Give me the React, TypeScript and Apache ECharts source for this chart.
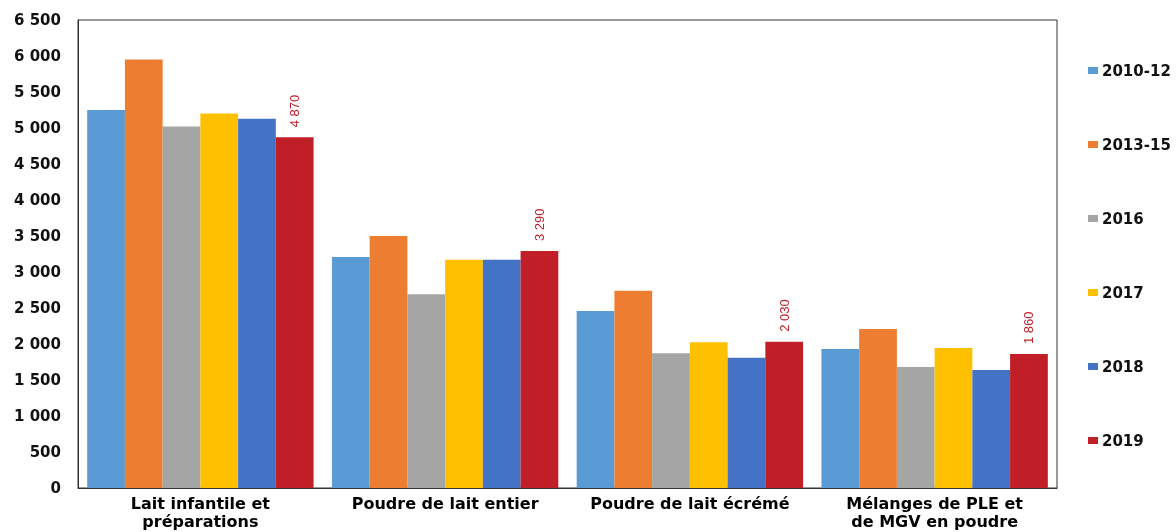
import React, { useEffect, useRef } from "react";
import * as echarts from "echarts";

const categories = [
  "Lait infantile et\npréparations",
  "Poudre de lait entier",
  "Poudre de lait écrémé",
  "Mélanges de PLE et\nde MGV en poudre",
];
const seriesNames = ["2010-12", "2013-15", "2016", "2017", "2018", "2019"];
const s2010_12 = [5250, 3210, 2460, 1930];
const s2013_15 = [5950, 3500, 2740, 2210];
const s2016 = [5020, 2690, 1870, 1680];
const s2017 = [5200, 3170, 2025, 1945];
const s2018 = [5130, 3170, 1810, 1640];
const s2019 = [4870, 3290, 2030, 1860];
const colors = ["#5b9bd5", "#ed7d31", "#a5a5a5", "#ffc000", "#4472c4", "#c01f28"];

const fmt = (v: number) => String(v).replace(/\B(?=(\d{3})+(?!\d))/g, " ");
const BOLD = "DejaVu Sans, Verdana, sans-serif";

export default function App() {
  const ref = useRef<HTMLDivElement>(null);
  useEffect(() => {
    if (!ref.current) return;
    const chart = echarts.init(ref.current, null, { renderer: "svg" });
    const data = [s2010_12, s2013_15, s2016, s2017, s2018, s2019];
    chart.setOption({
      animation: false,
      color: colors,
      grid: {
        left: 78,
        right: 119,
        top: 20,
        bottom: 44,
        show: true,
        borderColor: "#333",
        borderWidth: 1,
        containLabel: false,
      },
      legend: {
        orient: "vertical",
        left: 1083,
        top: 58,
        itemWidth: 10,
        itemHeight: 7,
        itemGap: 59,
        icon: "rect",
        textStyle: {
          fontFamily: BOLD,
          fontWeight: "bold",
          fontSize: 15,
          color: "#111",
          padding: [0, 0, 0, -1],
        },
        data: seriesNames,
      },
      xAxis: {
        type: "category",
        data: categories,
        axisLine: { lineStyle: { color: "#333" } },
        axisTick: { show: false },
        axisLabel: {
          interval: 0,
          fontFamily: BOLD,
          fontWeight: "bold",
          fontSize: 16,
          lineHeight: 18,
          color: "#000",
          margin: 6,
        },
      },
      yAxis: {
        type: "value",
        min: 0,
        max: 6500,
        interval: 500,
        splitLine: { show: false },
        axisLine: { show: true, lineStyle: { color: "#333" } },
        axisTick: { show: false },
        axisLabel: {
          formatter: (v: number) => fmt(v),
          fontFamily: BOLD,
          fontWeight: "bold",
          fontSize: 15,
          color: "#111",
          margin: 17,
        },
      },
      series: seriesNames.map((name, i) => ({
        name,
        type: "bar",
        data: data[i],
        barGap: "0%",
        barCategoryGap: "7.5%",
        itemStyle: { color: colors[i] },
        label:
          i === 5
            ? {
                show: true,
                position: "top",
                rotate: 90,
                align: "left",
                verticalAlign: "middle",
                distance: 10,
                formatter: (p: any) => fmt(p.value),
                fontFamily: "Liberation Sans, Arial, sans-serif",
                fontSize: 13,
                color: "#c01f28",
              }
            : { show: false },
      })),
    });
    return () => chart.dispose();
  }, []);
  return (
    <div
      ref={ref}
      style={{ width: 1176, height: 532, position: "fixed", left: 0, top: 0 }}
    />
  );
}
